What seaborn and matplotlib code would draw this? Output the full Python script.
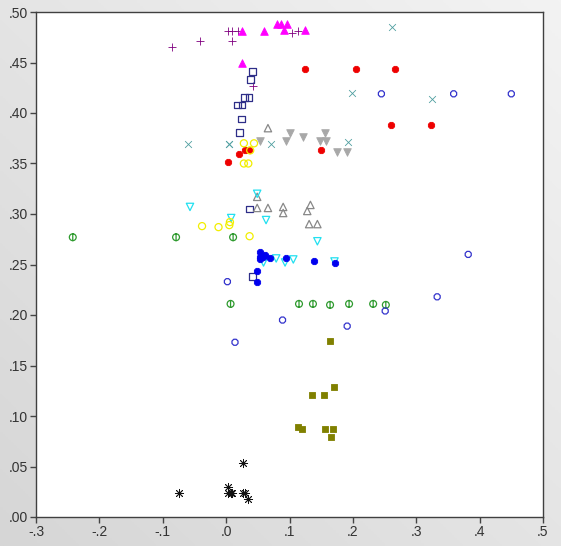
import numpy as np
import pandas as pd
import matplotlib
matplotlib.use("Agg")
import matplotlib.pyplot as plt
from matplotlib.path import Path
from matplotlib.colors import LinearSegmentedColormap
from matplotlib.ticker import FuncFormatter
import seaborn as sns

# series (x, y)
plus_x = [-0.085, -0.042, 0.003, 0.010, 0.018, 0.009, 0.042, 0.104, 0.113]
plus_y = [0.465, 0.471, 0.481, 0.481, 0.481, 0.471, 0.427, 0.479, 0.481]

tri_mag_x = [0.025, 0.060, 0.081, 0.086, 0.096, 0.091, 0.125, 0.025]
tri_mag_y = [0.481, 0.481, 0.488, 0.488, 0.488, 0.482, 0.482, 0.450]

red_x = [0.003, 0.021, 0.030, 0.036, 0.125, 0.205, 0.266, 0.260, 0.323, 0.149]
red_y = [0.351, 0.359, 0.363, 0.363, 0.444, 0.444, 0.444, 0.388, 0.388, 0.363]

cross_x = [-0.060, 0.005, 0.005, 0.071, 0.262, 0.198, 0.325, 0.193]
cross_y = [0.369, 0.369, 0.369, 0.369, 0.485, 0.420, 0.414, 0.371]

sq_x = [0.042, 0.039, 0.029, 0.036, 0.018, 0.025, 0.024, 0.021, 0.037, 0.042]
sq_y = [0.441, 0.433, 0.415, 0.415, 0.408, 0.408, 0.394, 0.381, 0.305, 0.238]

gray_down_x = [0.053, 0.094, 0.100, 0.122, 0.148, 0.156, 0.157, 0.175, 0.191]
gray_down_y = [0.372, 0.372, 0.380, 0.376, 0.372, 0.380, 0.372, 0.361, 0.361]

gray_up_x = [0.066, 0.049, 0.049, 0.066, 0.090, 0.090, 0.128, 0.133, 0.131, 0.144]
gray_up_y = [0.385, 0.317, 0.306, 0.306, 0.307, 0.301, 0.303, 0.309, 0.290, 0.290]

cyan_x = [-0.057, 0.008, 0.049, 0.063, 0.059, 0.079, 0.093, 0.106, 0.144, 0.171]
cyan_y = [0.307, 0.296, 0.320, 0.294, 0.252, 0.256, 0.252, 0.255, 0.273, 0.253]

yellow_x = [0.028, 0.044, 0.028, 0.035, 0.038, -0.038, -0.012, 0.005, 0.006, 0.037]
yellow_y = [0.370, 0.370, 0.350, 0.350, 0.363, 0.288, 0.287, 0.289, 0.292, 0.278]

green_x = [-0.242, -0.079, 0.011, 0.007, 0.115, 0.137, 0.164, 0.194, 0.232, 0.252]
green_y = [0.277, 0.277, 0.277, 0.211, 0.211, 0.211, 0.210, 0.211, 0.211, 0.210]

blue_x = [0.054, 0.053, 0.061, 0.053, 0.058, 0.070, 0.094, 0.139, 0.172, 0.048, 0.049]
blue_y = [0.262, 0.257, 0.259, 0.255, 0.257, 0.256, 0.256, 0.253, 0.251, 0.244, 0.233]

oct_x = [0.245, 0.359, 0.450, 0.002, 0.014, 0.382, 0.333, 0.089, 0.191, 0.251]
oct_y = [0.419, 0.419, 0.419, 0.233, 0.173, 0.260, 0.218, 0.195, 0.189, 0.204]

olive_x = [0.164, 0.135, 0.155, 0.171, 0.113, 0.119, 0.156, 0.169, 0.166]
olive_y = [0.174, 0.121, 0.121, 0.129, 0.089, 0.087, 0.087, 0.087, 0.079]

star_x = [-0.075, 0.003, 0.003, 0.008, 0.010, 0.027, 0.027, 0.030, 0.034]
star_y = [0.024, 0.030, 0.024, 0.024, 0.024, 0.053, 0.024, 0.024, 0.018]

# circle with a short vertical bar through it
circ = Path.unit_circle()
phi_verts = np.concatenate([circ.vertices, [[0, -1.15], [0, 1.15]]])
phi_codes = np.concatenate([circ.codes, [Path.MOVETO, Path.LINETO]])
phi_marker = Path(phi_verts, phi_codes)

# (x, y, marker, colour, hollow, size)
series = [
    (plus_x, plus_y, "+", "#800080", False, 40),
    (tri_mag_x, tri_mag_y, "^", "#ff00ff", False, 30),
    (red_x, red_y, "8", "#ee0000", False, 24),
    (cross_x, cross_y, "x", "#4f9ea0", False, 24),
    (sq_x, sq_y, "s", "#2e2e88", True, 24),
    (gray_down_x, gray_down_y, "v", "#a8a8a8", False, 30),
    (gray_up_x, gray_up_y, "^", "#888888", True, 28),
    (cyan_x, cyan_y, "v", "#22e0f0", True, 28),
    (yellow_x, yellow_y, "o", "#f2ee00", True, 26),
    (green_x, green_y, phi_marker, "#2e9a2e", True, 32),
    (blue_x, blue_y, "8", "#0000ee", False, 24),
    (oct_x, oct_y, "8", "#3333cc", True, 22),
    (olive_x, olive_y, "s", "#808000", False, 24),
    (star_x, star_y, (8, 2, 0), "#111111", False, 36),
]

sns.set_style("white")
plt.rcParams["font.family"] = ["Liberation Sans", "DejaVu Sans"]
fig = plt.figure(figsize=(5.61, 5.46), dpi=100)

# grey gradient background behind everything
bg = fig.add_axes([0, 0, 1, 1], zorder=-10)
gx, gy = np.meshgrid(np.linspace(0, 1, 200), np.linspace(0, 1, 200))
grad = 0.5 * gx + 0.5 * (1 - gy)
bg.imshow(grad, cmap=LinearSegmentedColormap.from_list("bg", ["#d6d6d6", "#f3f3f3"]),
          aspect="auto", extent=[0, 1, 0, 1], origin="upper")
bg.set_axis_off()

ax = fig.add_axes([36 / 561, 1 - 517 / 546, (543 - 36) / 561, (517 - 12) / 546])
ax.set_facecolor("white")

for xs, ys, m, c, hollow, s in series:
    df = pd.DataFrame({"x": xs, "y": ys})
    if hollow:
        sns.scatterplot(data=df, x="x", y="y", ax=ax, marker=m, s=s, color=c,
                        facecolors="none", edgecolors=c, linewidth=0.9, zorder=3)
    else:
        sns.scatterplot(data=df, x="x", y="y", ax=ax, marker=m, s=s, color=c,
                        edgecolors=c, linewidth=0.6, zorder=3)

ax.set_xlim(-0.3, 0.5)
ax.set_ylim(0, 0.5)
ax.set_xticks(np.arange(-0.3, 0.51, 0.1))
ax.set_yticks(np.arange(0, 0.51, 0.05))


def short_fmt(v, pos, nd):
    s = f"{v:.{nd}f}"
    if s.startswith("-0"):
        s = "-" + s[2:]
    elif s.startswith("0"):
        s = s[1:]
    return s


ax.xaxis.set_major_formatter(FuncFormatter(lambda v, p: short_fmt(v, p, 1)))
ax.yaxis.set_major_formatter(FuncFormatter(lambda v, p: short_fmt(v, p, 2)))
ax.tick_params(axis="both", direction="out", length=4, width=1, color="#444444",
               labelsize=10, labelcolor="#333333", pad=2, left=True, bottom=True)
for sp in ax.spines.values():
    sp.set_color("#404040")
    sp.set_linewidth(1.0)
ax.set_xlabel("")
ax.set_ylabel("")
ax.grid(False)

fig.savefig("out.png", dpi=100)
